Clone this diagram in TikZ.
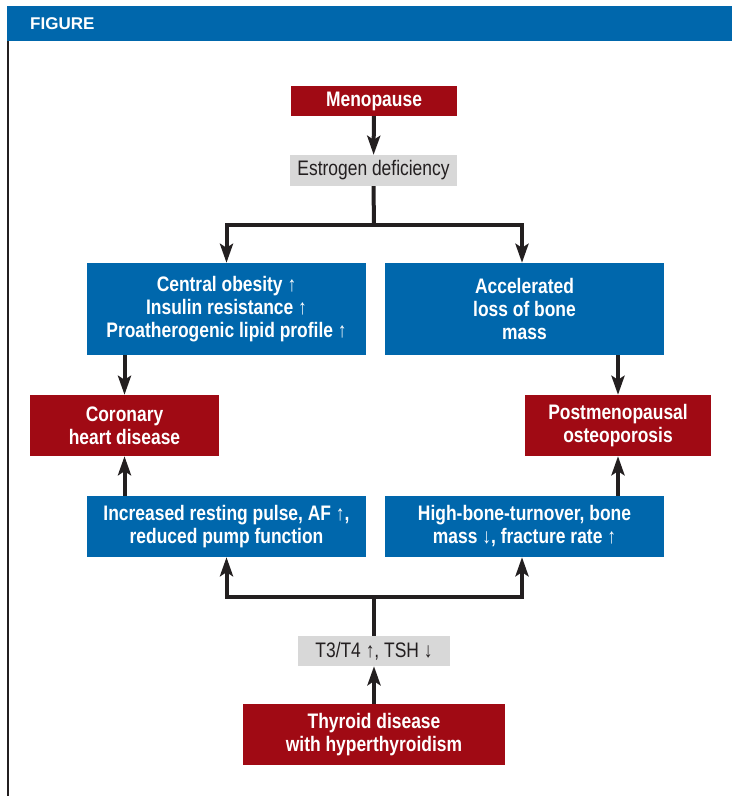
\documentclass[tikz,border=0pt]{standalone}
\usepackage{fontspec}
\setmainfont{Liberation Sans}[FakeStretch=0.83]
\newfontfamily\headfont{Liberation Sans}
\usetikzlibrary{arrows.meta}
\definecolor{figblue}{RGB}{0,103,172}
\definecolor{figred}{RGB}{160,10,20}
\definecolor{figgray}{RGB}{216,216,216}
\definecolor{figink}{RGB}{35,31,32}
\begin{document}
\begin{tikzpicture}
[x=1pt,y=-1pt,
  boxdecorate/.style={shape=rectangle,inner sep=0pt,align=center,
    font=\fontsize{21}{23}\selectfont},
  redbox/.style={boxdecorate,fill=figred,text=white,font=\fontsize{21}{23}\bfseries\selectfont},
  bluebox/.style={boxdecorate,fill=figblue,text=white,font=\fontsize{21}{23}\bfseries\selectfont},
  graybox/.style={boxdecorate,fill=figgray,text=figink},
  linedecorate/.style={draw=figink,line width=4pt},
  arrowdecorate/.style={linedecorate,-{Stealth[length=19pt,width=13pt,inset=4pt]}}]
\useasboundingbox (0,0) rectangle (732,796);
%% frame
\fill[figblue] (7,6) rectangle (732,41);
\node[anchor=west,inner sep=0pt,text=white,font=\fontsize{17}{20}\headfont\bfseries\selectfont]
  (title) at (30,23.5) {FIGURE};
\draw[figink,line width=2pt] (8,41) -- (8,796);
%% nodes or boxes
\foreach \nodename/\x/\y/\w/\h/\kind/\label in {
  menopause/374/101/166/30/redbox/Menopause,
  estrogen/373.5/170.5/167/31/graybox/Estrogen deficiency,
  obesity/226.5/309/279/92/bluebox/{Central obesity ↑\\Insulin resistance ↑\\Proatherogenic lipid profile ↑},
  boneloss/524.5/309/279/92/bluebox/{Accelerated\\loss of bone\\mass},
  chd/124.5/425.5/189/61/redbox/{Coronary\\heart disease},
  osteo/618/425.5/186/61/redbox/{Postmenopausal\\osteoporosis},
  pulse/226.5/526.5/279/61/bluebox/{Increased resting pulse, AF ↑,\\reduced pump function},
  turnover/524.5/526.5/279/61/bluebox/{High-bone-turnover, bone\\mass ↓, fracture rate ↑},
  hormones/374/651/152/30/graybox/{T3/T4 ↑, TSH ↓},
  thyroid/374/734.5/262/61/redbox/{Thyroid disease\\with hyperthyroidism}} {
  \node (\nodename) at (\x,\y) [\kind,minimum width=\w pt,minimum height=\h pt] {\label};
}
\coordinate (topsplit) at (374,225);
\coordinate (bottomsplit) at (374,597);
%% edges or lines
\draw[arrowdecorate] (menopause) -- (estrogen);
\draw[linedecorate] (estrogen.south) -- (topsplit);
\draw[arrowdecorate] (topsplit) -| (obesity.north);
\draw[arrowdecorate] (topsplit) -| ([xshift=-2.5pt]boneloss.north);
\draw[arrowdecorate] (obesity.south -| chd.north) -- (chd.north);
\draw[arrowdecorate] (boneloss.south -| osteo.north) -- (osteo.north);
\draw[arrowdecorate] (pulse.north -| chd.south) -- (chd.south);
\draw[arrowdecorate] (turnover.north -| osteo.south) -- (osteo.south);
\draw[linedecorate] (hormones.north) -- (bottomsplit);
\draw[arrowdecorate] (bottomsplit) -| (pulse.south);
\draw[arrowdecorate] (bottomsplit) -| ([xshift=-2.5pt]turnover.south);
\draw[arrowdecorate] (thyroid) -- (hormones);
\end{tikzpicture}
\end{document}
